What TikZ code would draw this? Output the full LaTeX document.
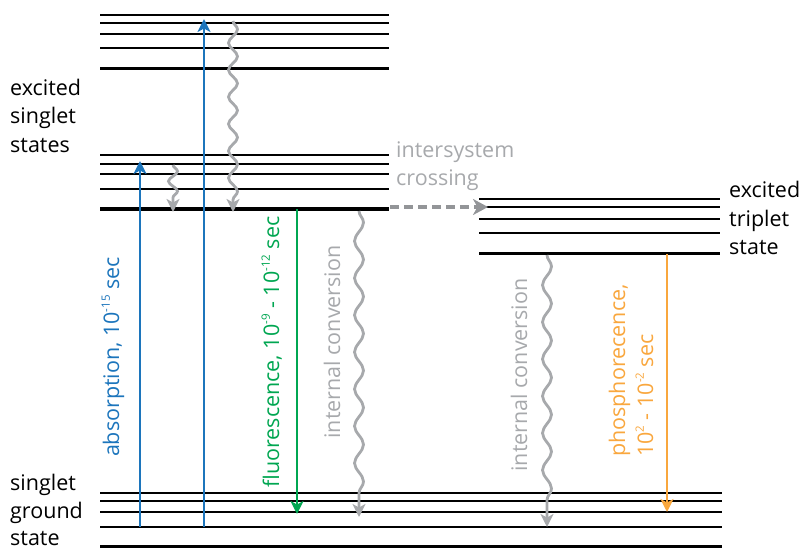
\documentclass[tikz,border=0pt]{standalone}
\usepackage{fontspec}
\setmainfont{Open Sans}
\usetikzlibrary{arrows.meta,decorations.pathmorphing}
\definecolor{cblue}{HTML}{1C75BC}
\definecolor{cgreen}{HTML}{00A651}
\definecolor{corange}{HTML}{F9A73E}
\definecolor{cgray}{HTML}{A7A9AC}
\definecolor{cdgray}{HTML}{939598}
\newcommand{\mysup}[1]{\raisebox{0.42em}{\fontsize{11.5}{11.5}\selectfont #1}}
\begin{document}
\begin{tikzpicture}[x=1pt,y=-1pt,
  lvl/.style={line width=1.7pt},
  lvlthick/.style={line width=3.4pt},
  tipst/.style={-{Stealth[length=13pt,width=13pt,inset=3.5pt]}},
  radarrow/.style={line width=2.7pt, tipst},
  wavy/.style={line width=2.8pt, draw=cgray, tipst, decorate,
     decoration={snake, amplitude=4.5pt, segment length=#1, post length=10pt}},
  wavy/.default=37pt,
  lab/.style={font=\fontsize{21.5}{28}\selectfont, inner sep=0pt},
]
\useasboundingbox (0,0) rectangle (803,549);

% singlet higher levels
\foreach \y in {14.7,22.7,33.7,48.3} \draw[lvl] (100,\y) -- (389,\y);
\draw[lvlthick] (100,68.3) -- (389,68.3);
% S1
\foreach \y in {155.3,163.7,174.3,189.3} \draw[lvl] (100,\y) -- (389,\y);
\draw[lvlthick] (100,209) -- (389,209);
% triplet
\foreach \y in {199,207,218.7,233} \draw[lvl] (479,\y) -- (720,\y);
\draw[lvlthick] (479,253.3) -- (720,253.3);
% ground
\foreach \y in {492.7,501,512.3,526.7} \draw[lvl] (100,\y) -- (722,\y);
\draw[lvlthick] (100,546.7) -- (722,546.7);

% coordinates
\coordinate (absAfrom) at (140,526.7);
\coordinate (absAto) at (140,161);
\coordinate (absBfrom) at (204,526.7);
\coordinate (absBto) at (204,19);
\coordinate (icTopFrom) at (233,21);
\coordinate (icTopTo) at (233,212);
\coordinate (icSmFrom) at (173,165);
\coordinate (icSmTo) at (173,212);
\coordinate (flFrom) at (297,209);
\coordinate (flTo) at (297,514);
\coordinate (icS1From) at (359,211);
\coordinate (icS1To) at (359,517);
\coordinate (iscFrom) at (390,207);
\coordinate (iscTo) at (488,207);
\coordinate (icT1From) at (547,255);
\coordinate (icT1To) at (547,527);
\coordinate (phFrom) at (667,254);
\coordinate (phTo) at (667,512);

% arrows
\draw[radarrow, cblue] (absAfrom) -- (absAto);
\draw[radarrow, cblue] (absBfrom) -- (absBto);
\draw[radarrow, cgreen] (flFrom) -- (flTo);
\draw[radarrow, corange] (phFrom) -- (phTo);
\draw[wavy=27pt] (icTopFrom) -- (icTopTo);
\draw[wavy=20pt] (icSmFrom) -- (icSmTo);
\draw[wavy=37pt] (icS1From) -- (icS1To);
\draw[wavy=37pt] (icT1From) -- (icT1To);
\draw[cdgray, line width=4pt, dash pattern=on 9pt off 5pt,
  -{Stealth[length=15pt,width=16pt,inset=4.5pt]}] (iscFrom) -- (iscTo);

% horizontal labels
\node[lab, anchor=base west] (l1) at (10,95) {excited};
\node[lab, anchor=base west] (l2) at (10,123) {singlet};
\node[lab, anchor=base west] (l3) at (10,152) {states};
\node[lab, anchor=base west] (g1) at (10,490) {singlet};
\node[lab, anchor=base west] (g2) at (10,518) {ground};
\node[lab, anchor=base west] (g3) at (10,545) {state};
\node[lab, anchor=base west] (t1) at (729,197) {excited};
\node[lab, anchor=base west] (t2) at (729,226) {triplet};
\node[lab, anchor=base west] (t3) at (729,254) {state};
\node[lab, anchor=base west, text=cgray] (i1) at (396,157) {intersystem};
\node[lab, anchor=base west, text=cgray] (i2) at (396,185) {crossing};

% rotated labels
\node[lab, rotate=90, anchor=base, text=cblue] (abs) at (119,357) {absorption, 10\mysup{-15} sec};
\node[lab, rotate=90, anchor=base, text=cgreen] (fl) at (279,352) {fluorescence, 10\mysup{-9} - 10\mysup{-12} sec};
\node[lab, rotate=90, anchor=base, text=cgray] (ic1) at (340,342) {internal conversion};
\node[lab, rotate=90, anchor=base, text=cgray] (ic2) at (527,375) {internal conversion};
\node[lab, rotate=90, anchor=base west, text=corange] (ph1) at (625,457) {phosphorecence,};
\node[lab, rotate=90, anchor=base west, text=corange] (ph2) at (653,457) {10\mysup{2} - 10\mysup{-2} sec};
\end{tikzpicture}
\end{document}
